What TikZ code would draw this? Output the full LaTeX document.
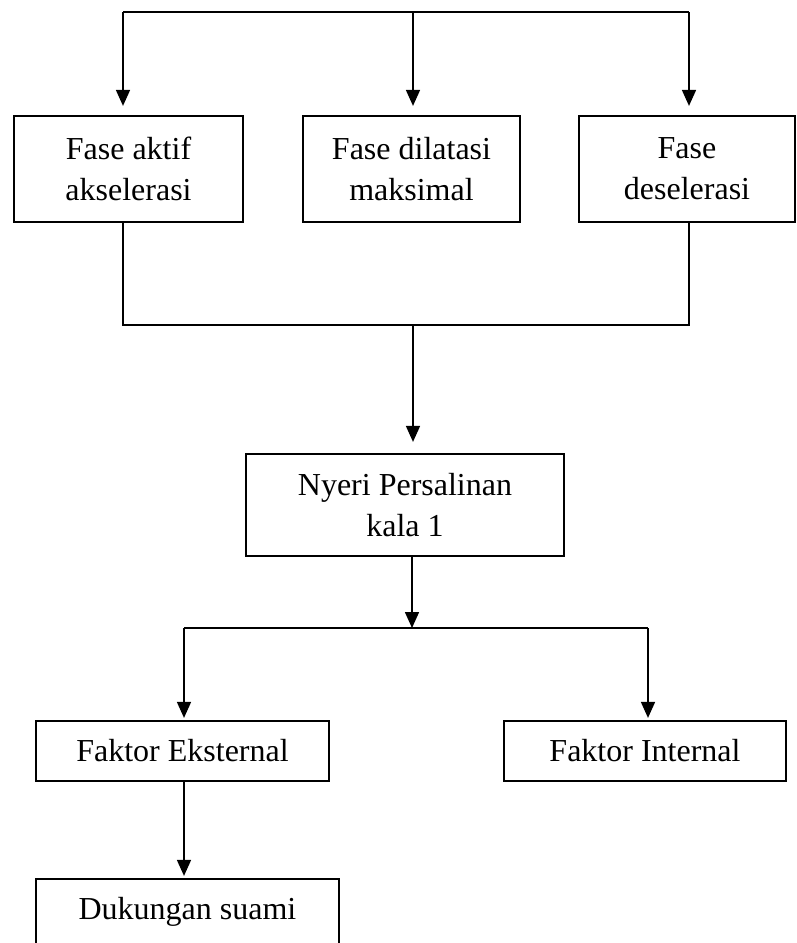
\documentclass[tikz,border=0pt]{standalone}
\usepackage{fontspec}
\setmainfont{Liberation Serif}
\usetikzlibrary{arrows.meta}
\begin{document}
\begin{tikzpicture}[x=1pt,y=-1pt,
  box/.style={draw,line width=2.2pt,inner sep=0pt,align=center,font=\fontsize{32}{41}\selectfont},
  conn/.style={line width=1.6pt},
  arr/.style={conn,-{Triangle[width=14pt,length=16pt]}}]
\clip (0,0) rectangle (797,943);
% boxes
\node[box,minimum width=229pt,minimum height=106pt] (b1) at (128.5,169) {Fase aktif\\akselerasi};
\node[box,minimum width=217pt,minimum height=106pt] (b2) at (411.5,169) {Fase dilatasi\\maksimal};
\node[box,minimum width=216pt,minimum height=106pt] (b3) at (687,169) {Fase\\deselerasi};
\node[box,minimum width=318pt,minimum height=102pt] (ny) at (405,505) {Nyeri Persalinan\\kala 1};
\node[box,minimum width=293pt,minimum height=60pt] (fe) at (182.5,751) {Faktor Eksternal};
\node[box,minimum width=282pt,minimum height=60pt] (fi) at (645,751) {Faktor Internal};
\node[box,minimum width=303pt,minimum height=66pt] (du) at (187.5,912) {Dukungan suami};
% top distribution
\coordinate (t1) at (123,12);
\coordinate (t2) at (413,12);
\coordinate (t3) at (689,12);
\draw[conn] (t1) -- (t3);
\draw[arr,shorten >=9pt] (t1) -- (t1 |- b1.north);
\draw[arr,shorten >=9pt] (t2) -- (t2 |- b2.north);
\draw[arr,shorten >=9pt] (t3) -- (t3 |- b3.north);
% merge
\coordinate (m1) at (123,325);
\coordinate (m2) at (413,325);
\coordinate (m3) at (689,325);
\draw[conn] (b1.south -| m1) -- (m1) -- (m3) -- (b3.south -| m3);
\draw[arr,shorten >=11pt] (m2) -- (m2 |- ny.north);
% split
\coordinate (j) at (412,628);
\coordinate (jl) at (184,628);
\coordinate (jr) at (648,628);
\draw[arr] (ny.south -| j) -- (j);
\draw[conn] (jl) -- (jr);
\draw[arr,shorten >=2pt] (jl) -- (jl |- fe.north);
\draw[arr,shorten >=2pt] (jr) -- (jr |- fi.north);
\draw[arr,shorten >=2pt] (fe.south -| jl) -- (jl |- du.north);
\end{tikzpicture}
\end{document}
